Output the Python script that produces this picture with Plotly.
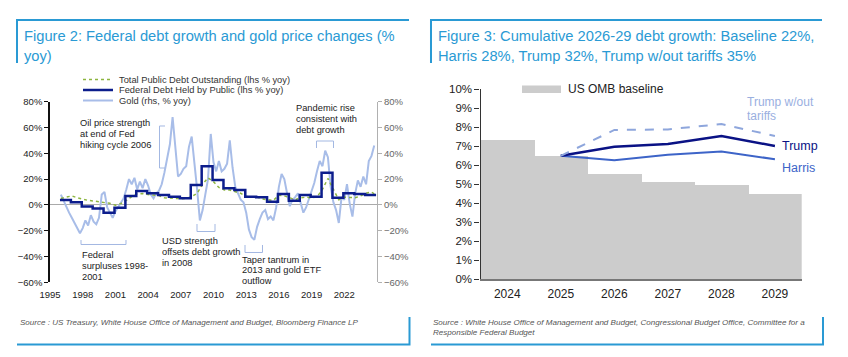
import plotly.graph_objects as go

# ---------------- data: Figure 2 ----------------
gold_dates = [
    "1996-01", "1996-04", "1996-07", "1996-10", "1997-01", "1997-04", "1997-07", "1997-10",
    "1998-01", "1998-04", "1998-07", "1998-10", "1999-01", "1999-04", "1999-07", "1999-10",
    "2000-01", "2000-04", "2000-07", "2000-10", "2001-01", "2001-04", "2001-07", "2001-10",
    "2002-01", "2002-04", "2002-07", "2002-10", "2003-01", "2003-04", "2003-07", "2003-10",
    "2004-01", "2004-04", "2004-07", "2004-10", "2005-01", "2005-04", "2005-07", "2005-10",
    "2006-01", "2006-04", "2006-07", "2006-10", "2007-01", "2007-04", "2007-07", "2007-10",
    "2008-01", "2008-04", "2008-07", "2008-10", "2009-01", "2009-04", "2009-07", "2009-10",
    "2010-01", "2010-04", "2010-07", "2010-10", "2011-01", "2011-04", "2011-07", "2011-10",
    "2012-01", "2012-04", "2012-07", "2012-10", "2013-01", "2013-04", "2013-07", "2013-10",
    "2014-01", "2014-04", "2014-07", "2014-10", "2015-01", "2015-04", "2015-07", "2015-10",
    "2016-01", "2016-04", "2016-07", "2016-10", "2017-01", "2017-04", "2017-07", "2017-10",
    "2018-01", "2018-04", "2018-07", "2018-10", "2019-01", "2019-04", "2019-07", "2019-10",
    "2020-01", "2020-04", "2020-07", "2020-10", "2021-01", "2021-04", "2021-07", "2021-10",
    "2022-01", "2022-04", "2022-07", "2022-10", "2023-01", "2023-04", "2023-07", "2023-10",
    "2024-01", "2024-04", "2024-07", "2024-10",
]
gold_yoy = [
    8, 3, -2, -6, -10, -14, -17, -22,
    -18, -12, -16, -8, -13, -15, -10, 8,
    10, -2, -6, -10, -5, -2, 2, 5,
    12, 20, 16, 21, 12, 18, 13, 20,
    15, 8, 5, 9, 11, 16, 25, 36,
    47, 68, 42, 22, 24, 28, 30, 45,
    53, 35, 12, -12, -4, 8, 20, 55,
    33, 26, 34, 26, 28, 32, 50, 29,
    14, 9, 4, 2, -6, -19, -25, -27,
    -17, -11, -6, -4, -11, -9, -12, -2,
    14, 24, 20, 9, -1, 4, 6, 9,
    1, -6, -2, 4, 10, 17, 26, 34,
    30, 42, 37, 14, 2, -4, -14, 6,
    4, 16, 1, -9, 9, 19, 14, 22,
    16, 34, 38, 46,
]

tpdo_dates = [
    "1996-01", "1996-07", "1997-01", "1997-07", "1998-01", "1998-07", "1999-01", "1999-07",
    "2000-01", "2000-07", "2001-01", "2001-07", "2002-01", "2002-07", "2003-01", "2003-07",
    "2004-01", "2004-07", "2005-01", "2005-07", "2006-01", "2006-07", "2007-01", "2007-07",
    "2008-01", "2008-07", "2009-01", "2009-07", "2010-01", "2010-07", "2011-01", "2011-07",
    "2012-01", "2012-07", "2013-01", "2013-07", "2014-01", "2014-07", "2015-01", "2015-07",
    "2016-01", "2016-07", "2017-01", "2017-07", "2018-01", "2018-07", "2019-01", "2019-07",
    "2020-01", "2020-07", "2021-01", "2021-07", "2022-01", "2022-07", "2023-01", "2023-07",
    "2024-01", "2024-07", "2024-10",
]
tpdo_yoy = [
    5.0, 6.0, 7.0, 5.5, 4.2, 3.5, 3.0, 2.4,
    2.0, 1.2, -0.3, 1.0, 3.5, 6.5, 8.5, 8.8,
    8.0, 7.6, 7.2, 5.5, 5.2, 5.0, 4.8, 5.0,
    6.4, 9.0, 16.0, 21.0, 18.0, 13.5, 11.6, 11.5,
    10.0, 9.0, 6.5, 6.0, 6.0, 4.5, 3.8, 3.5,
    7.5, 7.0, 5.5, 4.0, 5.5, 6.0, 5.5, 6.2,
    12.0, 20.5, 12.0, 4.0, 6.0, 6.0, 5.5, 7.0,
    9.0, 10.0, 8.5,
]

debt_dates = [
    "1995-12", "1996-12", "1997-12", "1998-12", "1999-12", "2000-12", "2001-12", "2002-12",
    "2003-12", "2004-12", "2005-12", "2006-12", "2007-12", "2008-12", "2009-12", "2010-12",
    "2011-12", "2012-12", "2013-12", "2014-12", "2015-12", "2016-12", "2017-12", "2018-12",
    "2019-12", "2020-12", "2021-12", "2022-12", "2023-12", "2024-12",
]
debt_yoy = [
    3.8, 2.0, -1.2, -2.7, -6.0, -2.2, 6.9, 10.8,
    9.0, 7.7, 6.4, 5.1, 15.4, 30.0, 19.3, 12.9,
    11.5, 6.4, 6.0, 2.5, 8.4, 3.3, 7.7, 6.4,
    25.0, 5.6, 9.0, 8.4, 7.7, 7.7,
]

fig2_tick_dates = ["1995-01-01", "1998-01-01", "2001-01-01", "2004-01-01", "2007-01-01",
                   "2010-01-01", "2013-01-01", "2016-01-01", "2019-01-01", "2022-01-01"]
fig2_tick_labels = ["1995", "1998", "2001", "2004", "2007", "2010", "2013", "2016", "2019", "2022"]

# ---------------- data: Figure 3 ----------------
years = [2024, 2025, 2026, 2027, 2028, 2029]
year_labels = ["2024", "2025", "2026", "2027", "2028", "2029"]
omb_baseline = [7.33, 6.5, 5.54, 5.1, 4.96, 4.47]
proj_years = [2025, 2026, 2027, 2028, 2029]
harris = [6.5, 6.27, 6.55, 6.72, 6.32]
trump = [6.5, 6.98, 7.12, 7.54, 7.02]
trump_no_tariffs = [6.5, 7.86, 7.89, 8.17, 7.54]

# ---------------- helpers ----------------
W, H = 848, 357
FONT = "Liberation Sans, Arial, Helvetica, sans-serif"
BLUE = "#2a9ad4"


def px(x):
    return x / W


def py(y):
    return 1 - y / H


fig = go.Figure()

# Figure 2 traces
fig.add_trace(go.Scatter(x=gold_dates, y=gold_yoy, xaxis="x", yaxis="y", mode="lines",
                         line=dict(color="#a8bde8", width=2), name="Gold (rhs, % yoy)"))
fig.add_trace(go.Scatter(x=tpdo_dates, y=tpdo_yoy, xaxis="x", yaxis="y2", mode="lines",
                         line=dict(color="#8db53f", width=1.5, dash="dot"),
                         name="Total Public Debt Outstanding (lhs % yoy)"))
fig.add_trace(go.Scatter(x=debt_dates, y=debt_yoy, xaxis="x", yaxis="y2", mode="lines",
                         line=dict(color="#0c1d8c", width=2.5, shape="hv"),
                         name="Federal Debt Held by Public (lhs % yoy)"))

# Figure 3 traces
fig.add_trace(go.Bar(x=years, y=omb_baseline, xaxis="x2", yaxis="y3", width=1,
                     marker=dict(color="#cccccc", line=dict(width=0)), name="US OMB baseline"))
fig.add_trace(go.Scatter(x=proj_years, y=harris, xaxis="x2", yaxis="y3", mode="lines",
                         line=dict(color="#3d64c8", width=2), name="Harris"))
fig.add_trace(go.Scatter(x=proj_years, y=trump, xaxis="x2", yaxis="y3", mode="lines",
                         line=dict(color="#0a1285", width=2.5), name="Trump"))
fig.add_trace(go.Scatter(x=proj_years, y=trump_no_tariffs, xaxis="x2", yaxis="y3", mode="lines",
                         line=dict(color="#8ea6dc", width=2, dash="dash"),
                         name="Trump w/out tariffs"))

annotations = []


def text(x, y, s, size=9.3, color="#222", anchor="left", italic=False):
    annotations.append(dict(
        x=px(x), y=py(y), xref="paper", yref="paper", text=s, showarrow=False,
        xanchor=anchor, yanchor="middle",
        font=dict(family=FONT, size=size, color=color, style="italic" if italic else "normal"),
    ))


def lines(x, y0, dy, items, **kw):
    for i, s in enumerate(items):
        text(x, y0 + i * dy, s, **kw)


# titles
text(22, 36, "Figure 2: Federal debt growth and gold price changes (%", size=14.7, color=BLUE)
text(22, 56, "yoy)", size=14.7, color=BLUE)
text(436, 36, "Figure 3: Cumulative 2026-29 debt growth: Baseline 22%,", size=14.7, color=BLUE)
text(436, 56, "Harris 28%, Trump 32%, Trump w/out tariffs 35%", size=14.7, color=BLUE)

# sources
text(18, 322, "Source : US Treasury, White House Office of Management and Budget, Bloomberg Finance LP",
     size=8.05, color="#555", italic=True)
text(431, 322, "Source : White House Office of Management and Budget, Congressional Budget Office, Committee for a",
     size=8.05, color="#555", italic=True)
text(431, 332, "Responsible Federal Budget", size=8.05, color="#555", italic=True)

# Figure 2 legend texts
text(117, 79.5, "Total Public Debt Outstanding (lhs % yoy)", size=9.3, color="#333")
text(117, 90, "Federal Debt Held by Public (lhs % yoy)", size=9.3, color="#333")
text(117, 100.5, "Gold (rhs, % yoy)", size=9.3, color="#333")

# Figure 2 callouts
lines(78, 123, 10.8, ["Oil price strength", "at end of Fed", "hiking cycle 2006"])
lines(294, 108, 10.8, ["Pandemic rise", "consistent with", "debt growth"])
lines(80, 255, 10.8, ["Federal", "surpluses 1998-", "2001"])
lines(160, 241, 10.8, ["USD strength", "offsets debt growth", "in 2008"])
lines(240, 259.5, 10.5, ["Taper tantrum in", "2013 and gold ETF", "outflow"])

# Figure 3 labels
text(566, 89, "US OMB baseline", size=12, color="#222")
lines(745, 102, 14.5, ["Trump w/out", "tariffs"], size=12, color="#9aafdf")
text(780, 146, "Trump", size=12.5, color="#0a1285")
text(780, 167.5, "Harris", size=12.5, color="#3d64c8")

shapes = []


def seg(pts, color, width=1, dash="solid"):
    path = "M" + " L".join(f"{px(a):.5f},{py(b):.5f}" for a, b in pts)
    shapes.append(dict(type="path", xref="paper", yref="paper", path=path,
                       line=dict(color=color, width=width, dash=dash)))


# panel frames
seg([(17, 63), (17, 20), (409, 20)], BLUE, 2)
seg([(17, 344.5), (409.5, 344.5), (409.5, 317)], BLUE, 2)
seg([(431, 63), (431, 20), (822, 20)], BLUE, 2)
seg([(431, 344.5), (823, 344.5), (823, 317)], BLUE, 2)

# Figure 2 legend keys
seg([(83, 79.5), (113, 79.5)], "#8db53f", 1.5, "dot")
seg([(83, 90), (113, 90)], "#0c1d8c", 2.5)
seg([(83, 100.5), (113, 100.5)], "#a8bde8", 2)

# Figure 3 legend key
shapes.append(dict(type="rect", xref="paper", yref="paper", x0=px(522), x1=px(561),
                   y0=py(93), y1=py(85.5), fillcolor="#cccccc", line=dict(width=0)))

# callout brackets
BR = "#a3b8e2"
seg([(165, 126), (159.5, 126), (159.5, 168), (165, 168)], BR)
seg([(316.5, 148), (316.5, 141), (333.5, 141), (333.5, 148)], BR)
seg([(81, 240), (81, 244.5), (126, 244.5), (126, 240)], BR)
seg([(197, 224), (197, 231.5), (215, 231.5), (215, 224)], BR)
seg([(245, 245), (245, 252.5), (262.5, 252.5), (262.5, 245)], BR)

tickfont_small = dict(family=FONT, size=9.5, color="#222")
NOTICK = "rgba(0,0,0,0)"

fig.update_layout(
    template="none",
    width=W, height=H, autosize=False,
    margin=dict(l=0, r=0, t=0, b=0, pad=0),
    paper_bgcolor="white", plot_bgcolor="white",
    showlegend=False,
    bargap=0,
    font=dict(family=FONT),
    xaxis=dict(domain=[px(50), px(377)], anchor="y", type="date", automargin=False,
               range=["1995-01-01", "2025-01-01"],
               tickmode="array", tickvals=fig2_tick_dates, ticktext=fig2_tick_labels,
               showgrid=False, showline=False, ticks="outside", ticklen=3, tickcolor=NOTICK,
               zeroline=False, tickfont=tickfont_small),
    yaxis=dict(domain=[py(282.3), py(101.7)], anchor="x", side="right", automargin=False,
               range=[-60, 80], dtick=20, ticksuffix="%", showgrid=False,
               showline=True, linecolor="#b0b0b0", linewidth=1,
               ticks="outside", ticklen=4, tickcolor="#b0b0b0",
               zeroline=True, zerolinecolor="#aaaaaa", zerolinewidth=1,
               tickfont=dict(family=FONT, size=9.5, color="#666")),
    yaxis2=dict(overlaying="y", anchor="x", side="left", automargin=False,
                range=[-60, 80], dtick=20, ticksuffix="%", showgrid=False,
                showline=True, linecolor="#111", linewidth=1.5,
                ticks="outside", ticklen=4, tickcolor="#111",
                zeroline=False, tickfont=tickfont_small),
    xaxis2=dict(domain=[px(480.5), px(801.7)], anchor="y3", automargin=False,
                range=[2023.5, 2029.5], tickmode="array", tickvals=years, ticktext=year_labels,
                showgrid=False, showline=True, linecolor="#777", linewidth=1.5,
                ticks="outside", ticklen=3, tickcolor=NOTICK, zeroline=False,
                tickfont=dict(family=FONT, size=12, color="#222")),
    yaxis3=dict(domain=[py(279.3), py(89.3)], anchor="x2", automargin=False,
                range=[0, 10], dtick=1, ticksuffix="%", showgrid=False,
                showline=True, linecolor="#333", linewidth=1.2,
                ticks="outside", ticklen=5, tickcolor="#333", zeroline=False,
                tickfont=dict(family=FONT, size=11.5, color="#222")),
    annotations=annotations,
    shapes=shapes,
)

fig.write_html("out.html", config={"displayModeBar": False},
               post_script="document.body.style.margin='0';document.body.style.overflow='hidden';")
